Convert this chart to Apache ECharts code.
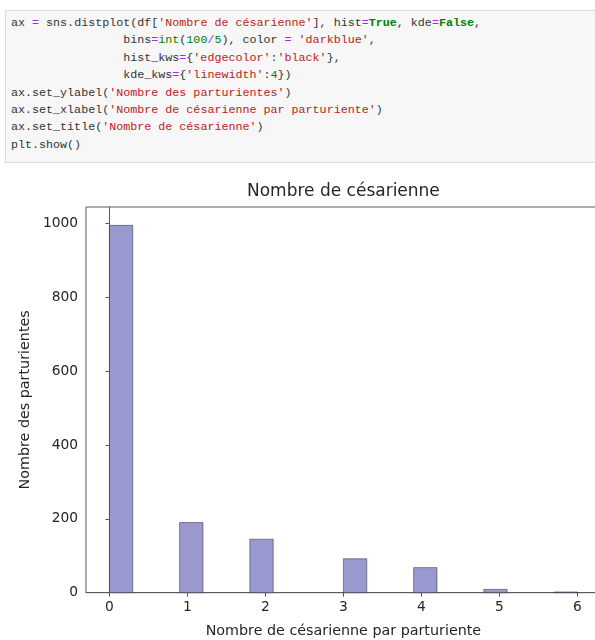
<!DOCTYPE html>
<html>
<head>
<meta charset="utf-8">
<script src="https://cdn.jsdelivr.net/npm/echarts@6/dist/echarts.min.js"></script>
<style>
  html, body { margin: 0; padding: 0; background: #fff; width: 595px; height: 640px; overflow: hidden; }
  #chart { position: absolute; left: 0; top: 0; width: 595px; height: 640px; }
  #cell {
    position: absolute; left: 5px; top: 10px; width: 600px; height: 153px;
    background: #f7f7f7; border: 1px solid #dcdcdc; z-index: 2; box-sizing: border-box;
  }
  #cell pre {
    margin: 0; padding: 4px 0 0 5px;
    font-family: "Liberation Mono", "DejaVu Sans Mono", monospace;
    font-size: 11.7px; line-height: 17.4px; color: #333;
  }
  .o { color: #aa22ff; }
  .s { color: #ba2121; }
  .k { color: #008000; font-weight: bold; }
  .m { color: #008000; }
  .nb { color: #008000; }
</style>
</head>
<body>
<div id="cell"><pre>ax <span class="o">=</span> sns.distplot(df[<span class="s">'Nombre de césarienne'</span>], hist<span class="o">=</span><span class="k">True</span>, kde<span class="o">=</span><span class="k">False</span>,
                bins<span class="o">=</span><span class="nb">int</span>(<span class="m">100</span><span class="o">/</span><span class="m">5</span>), color <span class="o">=</span> <span class="s">'darkblue'</span>,
                hist_kws<span class="o">=</span>{<span class="s">'edgecolor'</span>:<span class="s">'black'</span>},
                kde_kws<span class="o">=</span>{<span class="s">'linewidth'</span>:<span class="m">4</span>})
ax.set_ylabel(<span class="s">'Nombre des parturientes'</span>)
ax.set_xlabel(<span class="s">'Nombre de césarienne par parturiente'</span>)
ax.set_title(<span class="s">'Nombre de césarienne'</span>)
plt.show()</pre></div>
<div id="chart"></div>
<script>
// ---- data ----
var binStarts = [0.0, 0.9, 1.8, 3.0, 3.9, 4.8, 5.7];
var binWidth = 0.3;
var counts = [995, 190, 145, 92, 68, 9, 2];
var xTicks = [0, 1, 2, 3, 4, 5, 6];
var yTicks = [0, 200, 400, 600, 800, 1000];
var titleText = 'Nombre de césarienne';
var xLabel = 'Nombre de césarienne par parturiente';
var yLabel = 'Nombre des parturientes';

// ---- chart ----
var FONT = '"DejaVu Sans", sans-serif';
var TXT = '#262626';
var AX = '#5a5a5a';
var xMin = -0.3, xMax = 6.3;
var yMax = 995 * 1.05;

var seriesData = binStarts.map(function (s, i) { return [s, s + binWidth, counts[i]]; });

var chart = echarts.init(document.getElementById('chart'), null, { renderer: 'canvas' });
var gridLeft = 86, gridTop = 207, gridW = 514.8, gridH = 385.7;
chart.setOption({
  animation: false,
  backgroundColor: '#fff',
  graphic: [{
    type: 'text',
    x: gridLeft + gridW / 2, y: 192,
    style: { text: titleText, font: '17px ' + FONT, fill: TXT, align: 'center', verticalAlign: 'middle' }
  }],
  grid: {
    left: gridLeft, top: gridTop, width: gridW, height: gridH,
    containLabel: false, outerBoundsMode: 'none',
    show: true, borderColor: AX, borderWidth: 1, backgroundColor: 'transparent'
  },
  xAxis: {
    type: 'value', min: xMin, max: xMax,
    name: xLabel, nameLocation: 'middle', nameGap: 32,
    nameTextStyle: { fontFamily: FONT, fontSize: 14.3, color: TXT },
    axisLine: { show: true, onZero: false, lineStyle: { color: AX, width: 1 } },
    axisTick: { show: true, length: 4, customValues: xTicks, lineStyle: { color: AX } },
    axisLabel: { customValues: xTicks, fontFamily: FONT, fontSize: 13.8, color: TXT, margin: 8,
      formatter: function (v) { return String(v); } },
    splitLine: { show: false }
  },
  yAxis: {
    type: 'value', min: 0, max: yMax,
    name: yLabel, nameLocation: 'middle', nameGap: 53,
    nameTextStyle: { fontFamily: FONT, fontSize: 14.3, color: TXT },
    axisLine: { show: true, lineStyle: { color: AX, width: 1 } },
    axisTick: { show: true, length: 4, customValues: yTicks, lineStyle: { color: AX } },
    axisLabel: { customValues: yTicks, fontFamily: FONT, fontSize: 13.8, color: TXT, margin: 8,
      formatter: function (v) { return String(v); } },
    splitLine: { show: false }
  },
  series: [{
    type: 'custom',
    data: seriesData,
    encode: { x: [0, 1], y: 2 },
    renderItem: function (params, api) {
      var p0 = api.coord([api.value(0), api.value(2)]);
      var p1 = api.coord([api.value(1), 0]);
      return {
        type: 'rect',
        shape: { x: p0[0], y: p0[1], width: p1[0] - p0[0], height: p1[1] - p0[1] },
        style: { fill: 'rgb(153,153,208)', stroke: 'rgba(0,0,0,0.4)', lineWidth: 1 }
      };
    }
  }]
});
</script>
</body>
</html>
